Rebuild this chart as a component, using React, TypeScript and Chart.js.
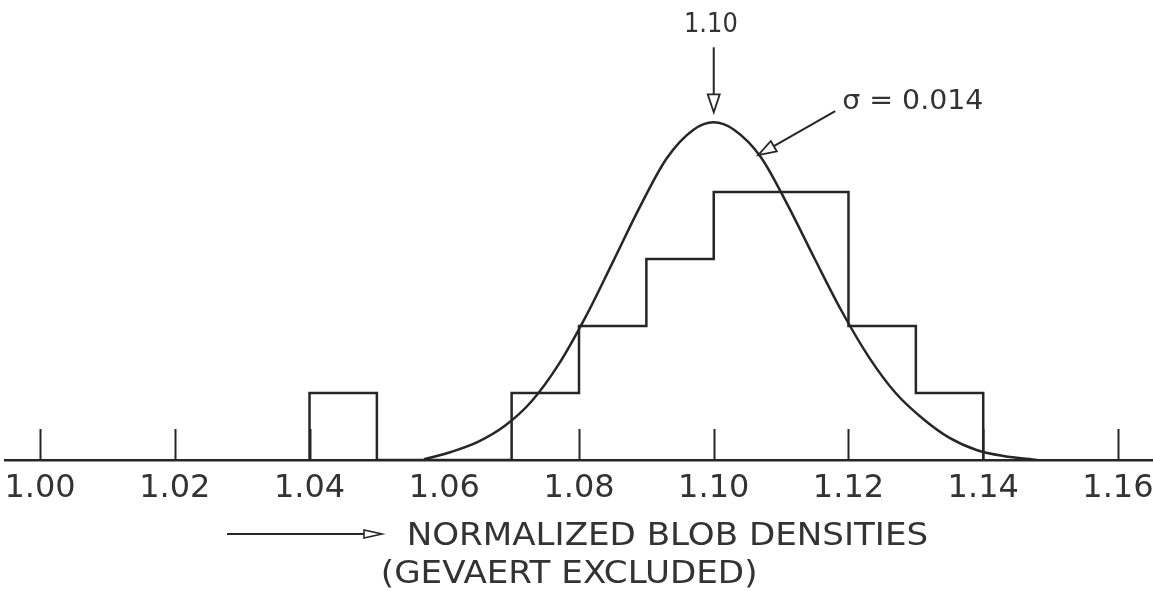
import React, { useEffect, useRef } from 'react';
import { Chart, registerables } from 'chart.js';

Chart.register(...registerables);

// ---- data ----
const binEdges = [1.04, 1.05, 1.06, 1.07, 1.08, 1.09, 1.1, 1.11, 1.12, 1.13, 1.14];
const binCounts = [1, 0, 0, 1, 2, 3, 4, 4, 2, 1];

const curveX = [
  1.057, 1.061, 1.065, 1.069, 1.073, 1.077, 1.081, 1.085, 1.089, 1.093, 1.097, 1.1,
  1.103, 1.107, 1.111, 1.115, 1.119, 1.123, 1.127, 1.131, 1.135, 1.139, 1.143, 1.148,
];
const curveY = [
  0.01, 0.12, 0.27, 0.51, 0.88, 1.43, 2.14, 2.95, 3.77, 4.5, 4.93, 5.04,
  4.93, 4.52, 3.8, 3.0, 2.22, 1.54, 1.0, 0.62, 0.33, 0.15, 0.06, 0.0,
];

const tickValues = [1.0, 1.02, 1.04, 1.06, 1.08, 1.1, 1.12, 1.14, 1.16];
const tickMarkValues = [1.0, 1.02, 1.04, 1.08, 1.1, 1.12, 1.14, 1.16];

const peakValue = 1.1;
const peakLabel = '1.10';
const sigmaLabel = 'σ = 0.014';
const sigmaPointer = [1.1066, 4.55];
const axisTitleLines = ['NORMALIZED BLOB DENSITIES', '(GEVAERT EXCLUDED)'];

const xMin = 0.9948;
const xMax = 1.1652;
const yMax = 460 / 67;

const LINE = '#262626';
const TEXT = '#333333';
const FONT = '"DejaVu Sans", sans-serif';

function hollowHead(ctx: CanvasRenderingContext2D, tx: number, ty: number, angle: number, len: number, half: number) {
  const bx = tx - Math.cos(angle) * len;
  const by = ty - Math.sin(angle) * len;
  const px = -Math.sin(angle) * half;
  const py = Math.cos(angle) * half;
  ctx.beginPath();
  ctx.moveTo(tx, ty);
  ctx.lineTo(bx + px, by + py);
  ctx.lineTo(bx - px, by - py);
  ctx.closePath();
  ctx.fillStyle = '#ffffff';
  ctx.fill();
  ctx.stroke();
}

function drawFit(ctx: CanvasRenderingContext2D, text: string, x0: number, x1: number, baseline: number, size: number) {
  ctx.save();
  ctx.font = `${size}px ${FONT}`;
  ctx.textAlign = 'left';
  ctx.textBaseline = 'alphabetic';
  const m = ctx.measureText(text);
  const inkW = m.actualBoundingBoxLeft + m.actualBoundingBoxRight;
  const sx = (x1 - x0) / inkW;
  ctx.translate(x0, baseline);
  ctx.scale(sx, 1);
  ctx.fillStyle = TEXT;
  ctx.fillText(text, m.actualBoundingBoxLeft, 0);
  ctx.restore();
}

const annotationPlugin = {
  id: 'annotations',
  afterDatasetsDraw(chart: any) {
    const ctx: CanvasRenderingContext2D = chart.ctx;
    const xs = chart.scales.x;
    const ys = chart.scales.y;
    const y0 = ys.getPixelForValue(0);
    ctx.save();
    ctx.strokeStyle = LINE;
    ctx.lineCap = 'butt';

    // upward tick marks
    ctx.lineWidth = 2;
    for (const v of tickMarkValues) {
      const x = Math.round(xs.getPixelForValue(v)) + 0.5;
      ctx.beginPath();
      ctx.moveTo(x, y0);
      ctx.lineTo(x, y0 - 31);
      ctx.stroke();
    }

    // peak label + arrow
    const px = xs.getPixelForValue(peakValue);
    const peakY = ys.getPixelForValue(Math.max(...curveY));
    drawFit(ctx, peakLabel, px - 28, px + 23, peakY - 90, 27);
    ctx.lineWidth = 2;
    ctx.beginPath();
    ctx.moveTo(px, peakY - 75);
    ctx.lineTo(px, peakY - 22);
    ctx.stroke();
    ctx.lineWidth = 1.8;
    hollowHead(ctx, px, peakY - 10, Math.PI / 2, 18, 6);

    // sigma label + pointer
    const tipX = xs.getPixelForValue(sigmaPointer[0]);
    const tipY = ys.getPixelForValue(sigmaPointer[1]);
    drawFit(ctx, sigmaLabel, tipX + 85, tipX + 224, tipY - 46, 27);
    const tailX = tipX + 77;
    const tailY = tipY - 44;
    const ang = Math.atan2(tipY - tailY, tipX - tailX);
    ctx.lineWidth = 2;
    ctx.beginPath();
    ctx.moveTo(tailX, tailY);
    ctx.lineTo(tipX - Math.cos(ang) * 14, tipY - Math.sin(ang) * 14);
    ctx.stroke();
    ctx.lineWidth = 1.8;
    hollowHead(ctx, tipX, tipY, ang, 18, 6);

    // axis title arrow + text
    ctx.lineWidth = 2;
    ctx.beginPath();
    ctx.moveTo(227, 534);
    ctx.lineTo(364, 534);
    ctx.stroke();
    ctx.lineWidth = 1.6;
    hollowHead(ctx, 382, 534, 0, 18, 4);
    drawFit(ctx, axisTitleLines[0], 410, 927, 545, 31.5);
    drawFit(ctx, axisTitleLines[1], 383, 755, 583, 31.5);
    ctx.restore();
  },
};

export default function App() {
  const canvasRef = useRef<HTMLCanvasElement | null>(null);

  useEffect(() => {
    if (!canvasRef.current) return;
    const histData = [{ x: binEdges[0], y: 0 }].concat(
      binEdges.map((e, i) => ({ x: e, y: i < binCounts.length ? binCounts[i] : 0 }))
    );
    const curveData = curveX.map((x, i) => ({ x, y: curveY[i] }));

    const chart = new Chart(canvasRef.current, {
      type: 'line',
      data: {
        datasets: [
          {
            label: 'Histogram',
            data: histData,
            stepped: 'before',
            borderColor: LINE,
            borderWidth: 2.5,
            pointRadius: 0,
            fill: false,
          },
          {
            label: 'Gaussian',
            data: curveData,
            cubicInterpolationMode: 'monotone',
            borderColor: LINE,
            borderWidth: 2.5,
            pointRadius: 0,
            fill: false,
          },
        ],
      },
      options: {
        responsive: false,
        animation: false,
        events: [],
        layout: { padding: { left: 5, right: 0, top: 0, bottom: 0 }, autoPadding: false },
        plugins: { legend: { display: false }, tooltip: { enabled: false }, title: { display: false } },
        scales: {
          x: {
            type: 'linear',
            min: xMin,
            max: xMax,
            afterBuildTicks: (s: any) => {
              s.ticks = tickValues.map((v) => ({ value: v }));
            },
            afterFit: (s: any) => {
              s.height = 131;
              s.paddingLeft = 0;
              s.paddingRight = 0;
            },
            grid: { display: false, drawTicks: false, tickLength: 0 },
            border: { display: true, color: LINE, width: 2.5 },
            ticks: {
              padding: 9,
              autoSkip: false,
              maxRotation: 0,
              color: TEXT,
              font: { family: FONT, size: 32 },
              callback: (v: any) => Number(v).toFixed(2),
            },
          },
          y: { type: 'linear', display: false, min: 0, max: yMax },
        },
      } as any,
      plugins: [annotationPlugin],
    });
    return () => chart.destroy();
  }, []);

  return (
    <div style={{ position: 'fixed', left: 0, top: 0, width: 1153, height: 591, background: '#ffffff' }}>
      <canvas ref={canvasRef} width={1153} height={591} style={{ display: 'block' }} />
    </div>
  );
}
